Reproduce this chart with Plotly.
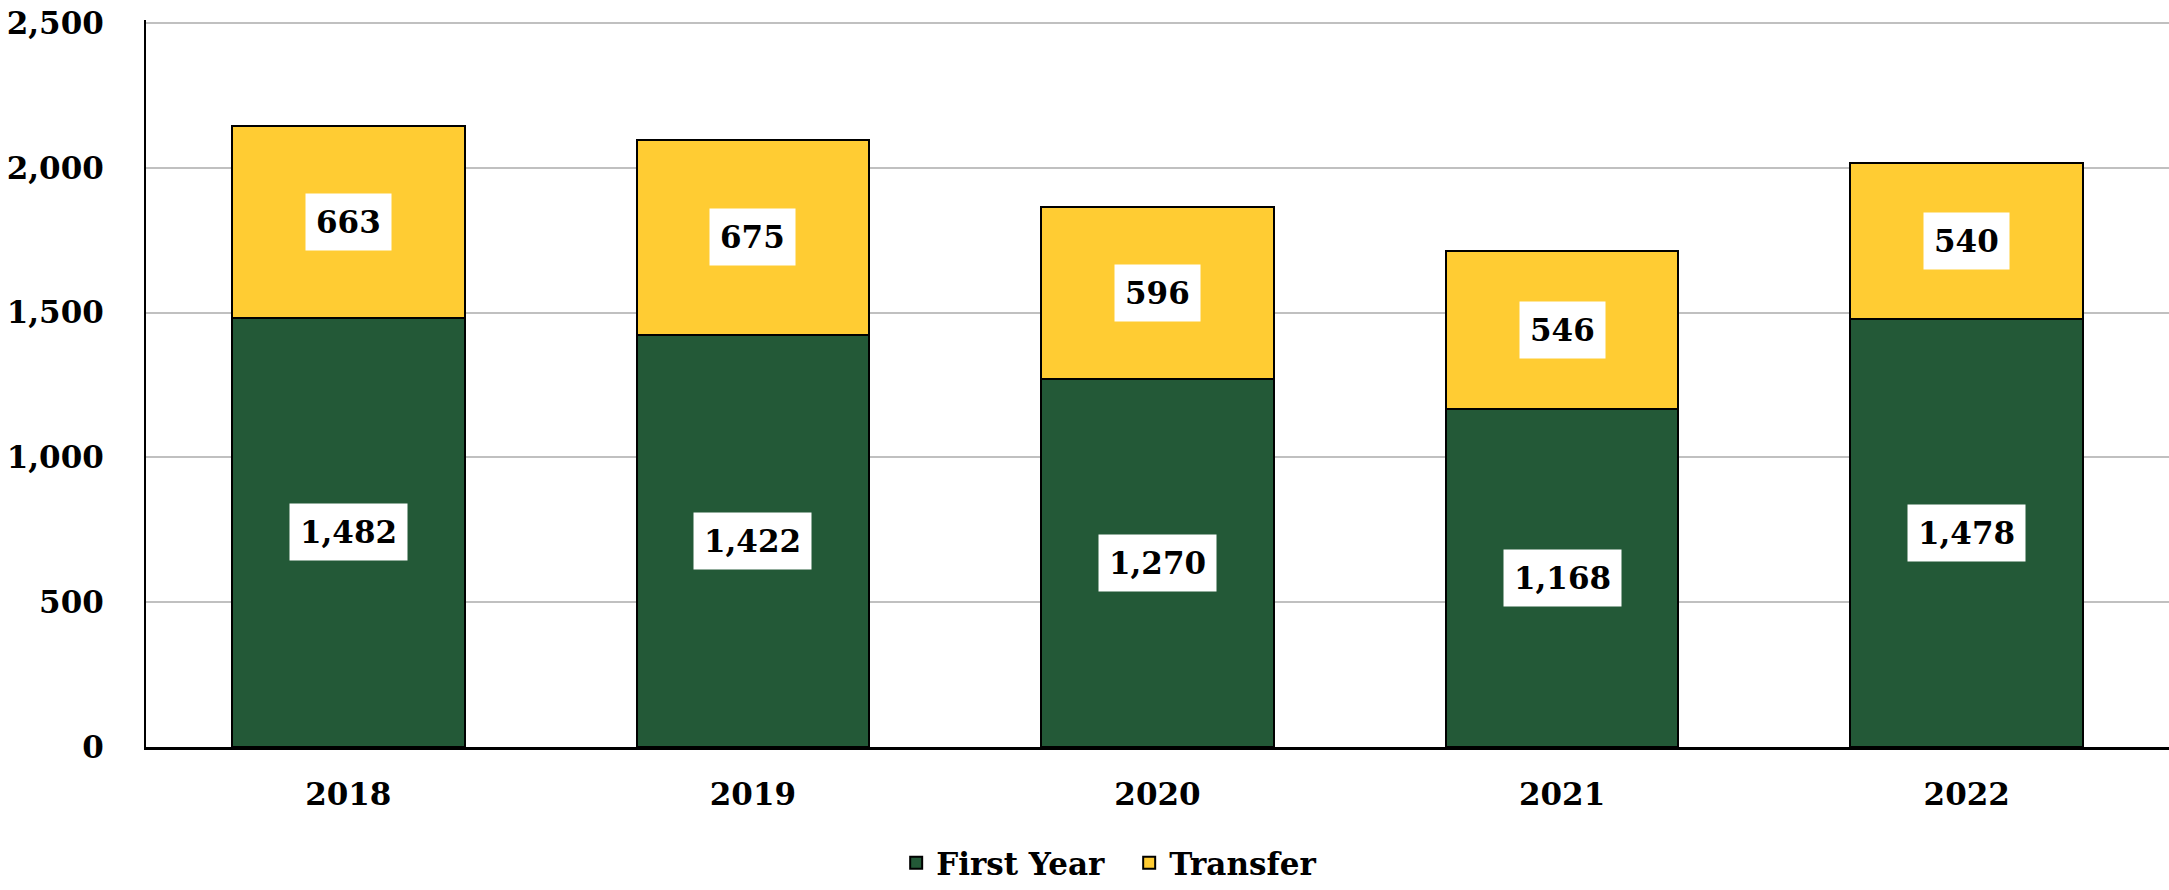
import plotly.graph_objects as go

years = ["2018", "2019", "2020", "2021", "2022"]
first_year = [1482, 1422, 1270, 1168, 1478]
transfer = [663, 675, 596, 546, 540]

green = "#235937"
gold = "#FFCC33"
font_family = "DejaVu Serif"

fig = go.Figure()
fig.add_trace(go.Bar(x=years, y=first_year, name="First Year",
                     marker=dict(color=green, line=dict(color="black", width=2))))
fig.add_trace(go.Bar(x=years, y=transfer, name="Transfer",
                     marker=dict(color=gold, line=dict(color="black", width=2))))

# value labels in white boxes, centred in each segment
# (x given as category index, since "2018" etc. would be read as a number)
for i, (fy, tr) in enumerate(zip(first_year, transfer)):
    fig.add_annotation(x=i, y=fy / 2, text="{:,}".format(fy), showarrow=False,
                       bgcolor="white", borderpad=10,
                       font=dict(family=font_family, size=31, color="black", weight="bold"))
    fig.add_annotation(x=i, y=fy + tr / 2, text="{:,}".format(tr), showarrow=False,
                       bgcolor="white", borderpad=10,
                       font=dict(family=font_family, size=31, color="black", weight="bold"))

fig.update_layout(
    barmode="stack",
    bargap=0.425,
    width=2169, height=890,
    margin=dict(l=146, r=0, t=20, b=126),
    plot_bgcolor="white", paper_bgcolor="white",
    font=dict(family=font_family, size=31, color="black", weight="bold"),
    legend=dict(orientation="h", x=0.486, xanchor="center", y=-0.16, yanchor="middle",
                font=dict(size=31), traceorder="normal", itemwidth=30,
                entrywidth=188, entrywidthmode="pixels"),
    showlegend=True,
)
fig.update_yaxes(range=[0, 2510], tickvals=[0, 500, 1000, 1500, 2000, 2500], tickformat=",",
                 showgrid=True, gridcolor="#C0C0C0", gridwidth=2,
                 showline=True, linecolor="black", linewidth=2,
                 zeroline=False, ticklabelstandoff=34, automargin=False)
fig.update_xaxes(type="category", range=[-0.5, 4.5],
                 showline=True, linecolor="black", linewidth=3,
                 ticklabelstandoff=18, automargin=False)

# drop the browser's default body margin so the figure fills the window
fig.write_html("out.html", config={"displayModeBar": False},
               post_script="document.body.style.margin='0';")
